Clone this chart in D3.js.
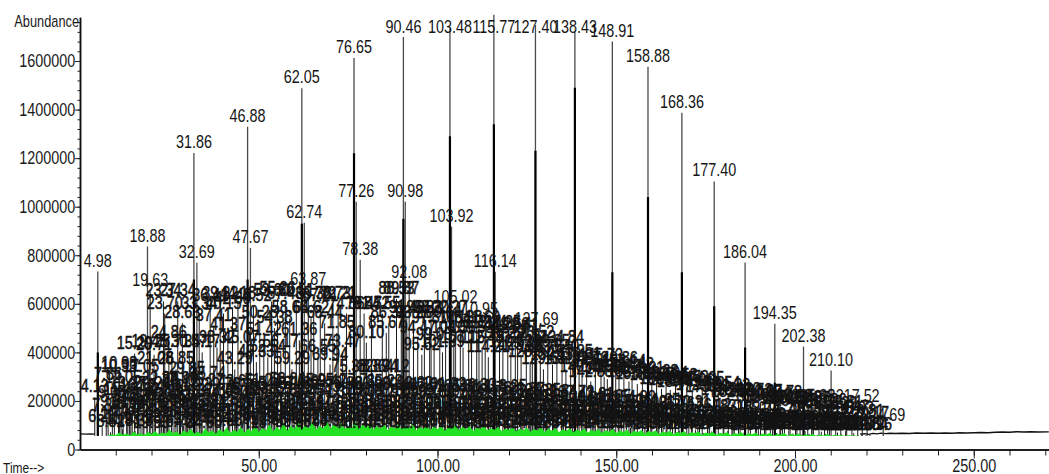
<!DOCTYPE html>
<html>
<head>
<meta charset="utf-8">
<script src="https://cdn.jsdelivr.net/npm/d3@7"></script>
<style>
  html, body { margin: 0; padding: 0; background: #fff; }
  svg text { font-family: "Liberation Sans", Arial, sans-serif; }
</style>
</head>
<body>
<svg id="chart" width="1049" height="474"></svg>
<script>
// Total ion chromatogram: retention time (min) vs abundance.

// Labelled principal peaks
const majorTimes   = [4.98, 18.88, 19.63, 31.86, 32.69, 46.88, 47.67, 62.05, 62.74, 63.87,
                      76.65, 77.26, 78.38, 90.46, 90.98, 92.08, 103.48, 103.92, 105.02, 110.95,
                      115.77, 116.14, 127.40, 127.69, 138.43, 148.91, 158.88, 168.36, 177.40, 186.04,
                      194.35, 202.38, 210.10, 217.52, 224.69];
const majorHeights = [733000, 836000, 651000, 1221000, 769000, 1329000, 830000, 1488000, 934000, 658000,
                      1612000, 1020000, 781000, 1699000, 1020000, 687000, 1735000, 918000, 584000, 535000,
                      1790000, 732000, 1748000, 494000, 1720000, 1680000, 1576000, 1387000, 1104000, 770000,
                      518000, 424000, 325000, 177000, 96000];
// height up to which the (broader) foot of each peak is drawn heavier
const majorCores   = [400000, 0, 0, 700000, 0, 700000, 0, 930000, 0, 0,
                      1220000, 0, 0, 950000, 0, 0, 1290000, 0, 0, 0,
                      1340000, 0, 1230000, 0, 1490000, 730000, 1040000, 730000, 590000, 420000,
                      275000, 240000, 0, 0, 0];

// Secondary peaks: [retention time, abundance in thousands]
const midPeaks = [
  [4.13,215],[7.86,265],[10.93,300],[10.98,310],[12.05,255],[13.37,230],[14.60,180],[15.29,395],
  [17.05,300],[19.45,400],[20.71,390],[21.08,330],[22.38,250],[23.34,610],[23.70,560],[24.86,440],
  [25.71,400],[26.85,330],[27.34,610],[27.90,250],[28.63,520],[29.85,290],
  [30.57,400],[33.34,560],[34.17,400],[35.74,270],[36.41,590],[37.41,510],[38.32,420],[39.22,600],
  [40.15,560],[41.37,470],[42.66,580],[43.29,330],[44.18,600],[45.07,420],
  [48.52,590],[49.33,360],[50.28,520],[51.42,450],[52.54,380],[53.60,610],[54.38,500],[55.26,620],
  [56.17,400],[57.43,600],[58.66,540],[59.29,330],[60.51,610],[61.36,450],
  [64.62,540],[65.38,600],[66.55,380],[67.21,590],[68.44,520],[69.94,350],[70.73,600],[71.85,480],
  [72.21,600],[73.47,400],[74.56,560],[75.38,300],[79.47,560],[80.10,440],
  [81.52,560],[82.64,300],[83.94,300],[84.55,560],[85.67,480],[86.38,520],[87.12,300],[88.53,620],
  [89.87,620],[91.40,540],[93.28,520],[94.47,460],[95.62,390],[96.33,540],[97.81,500],[98.20,540],[99.05,430],
  [100.64,520],[101.39,400],[102.27,540],[104.56,460],[106.38,500],[107.15,420],[108.72,480],[109.53,460],
  [111.60,500],[112.48,420],[113.34,480],[114.21,380],[117.35,480],[118.29,440],[119.66,470],[120.52,400],
  [121.77,460],[122.41,470],[123.38,390],[124.84,420],[125.91,360],[126.52,440],[128.76,380],[129.63,330],
  [130.85,400],[132.17,350],[133.40,380],[134.84,420],[135.92,330],[137.25,360],[139.61,350],[140.43,300],
  [141.72,330],[142.88,280],[144.15,320],[145.73,345],[146.62,300],[147.50,290],[149.86,330],[150.77,300],
  [152.14,320],[153.56,280],[154.42,305],[155.89,270],[157.31,290],[159.95,265],[161.28,280],[162.67,250],
  [163.94,270],[165.12,245],[166.58,260],[167.49,235],[169.73,255],
  [171.26,240],[172.83,225],[174.05,250],[175.60,215],[178.54,230],[179.91,205],[181.33,220],[182.66,195],
  [184.20,205],[187.52,200],[188.93,180],[190.37,195],[191.85,170],[193.12,185],[195.78,190],[197.05,165],
  [198.63,175],[200.15,160],[201.42,170],[203.57,165],[205.08,175],[206.71,150],[208.26,160],[211.39,145],
  [212.81,150],[214.47,130],[215.93,125],[218.81,115],[220.17,105]
];

// Peaks in the crowded band just above the baseline cluster: [retention time, abundance in thousands]
const bandPeaks = [
  [9.05,190],[11.48,205],[13.82,175],[16.12,220],[17.88,185],[20.24,230],[22.83,200],[24.12,215],[26.31,185],
  [28.12,235],[29.41,195],[31.02,220],[33.91,180],[35.27,240],[37.85,200],[39.76,225],[41.90,190],[43.65,235],
  [45.62,205],[47.03,220],[49.85,185],[51.08,240],[53.12,210],[54.87,230],[56.72,195],[58.04,245],[59.91,210],
  [61.82,230],[63.45,200],[65.95,240],[67.83,215],[69.42,235],[71.37,195],[73.90,230],[75.96,205],[77.71,240],
  [79.84,210],[81.90,230],[83.12,195],[85.23,235],[87.56,200],[89.44,225],[91.96,190],[93.62,230],[95.17,205],
  [97.09,220],[99.61,195],[101.92,225],[104.28,190],[105.81,215],[107.93,200],[110.33,220],[112.92,185],
  [114.76,210],[117.02,190],[118.95,215],[121.41,185],[123.87,205],[126.13,180],[128.35,200],[130.50,175],
  [132.84,195],[135.26,170],[137.72,190],[140.96,165],[143.31,185],[145.18,160],[148.05,175],[151.39,155],
  [154.90,170],[158.02,150],[161.65,160],[165.76,145],[170.31,150],[176.12,140],[183.01,135],[189.74,130],
  [196.48,120],[204.65,115],[209.12,110]
];

// Minor peaks close to the baseline: [retention time, abundance in thousands]
const smallPeaks = [
  [6.21,92],[7.34,138],[8.52,71],[9.61,156],[10.77,104],[11.93,83],[13.05,147],[14.22,118],[15.38,76],
  [16.47,161],[17.62,97],[18.71,132],[19.93,68],[21.08,152],[22.16,113],[23.31,87],[24.49,164],[25.57,125],
  [26.72,74],[27.86,143],[28.97,99],[30.13,158],[31.24,81],[32.41,129],[33.55,109],[34.68,66],[35.82,149],
  [36.94,118],[38.11,91],[39.25,162],[40.36,78],[41.52,136],[42.63,103],[43.79,155],[44.91,84],[46.07,127],
  [47.19,69],[48.33,146],[49.46,112],[50.61,95],[51.74,163],[52.88,79],[54.02,133],[55.14,106],[56.29,151],
  [57.41,88],[58.56,121],[59.68,72],[60.83,159],[61.95,101],[63.11,139],[64.23,85],[65.37,165],[66.52,116],
  [67.64,93],[68.79,148],[69.91,76],[71.06,130],[72.18,107],[73.33,157],[74.47,89],[75.58,124],[76.74,70],
  [77.89,144],[79.01,98],[80.15,160],[81.28,82],[82.43,135],[83.57,111],[84.69,153],[85.84,74],[86.96,128],
  [88.11,96],[89.23,150],[90.38,86],[91.52,119],[92.64,67],[93.79,141],[94.91,102],[96.06,158],[97.18,80],
  [98.33,126],[99.47,93],[100.59,146],[101.74,71],[102.86,122],[104.01,99],[105.13,152],[106.28,84],
  [107.42,117],[108.54,68],[109.69,139],[110.81,95],[111.96,149],[113.08,77],[114.23,123],[115.37,104],
  [116.49,143],[117.64,73],[118.76,131],[119.91,90],[121.03,147],[122.18,81],[123.32,114],[124.44,66],
  [125.59,137],[126.71,97],[127.86,142],[128.98,79],[130.13,120],[131.27,88],[132.39,140],[133.54,70],
  [134.66,112],[135.81,94],[136.93,135],[138.08,75],[139.22,118],[140.34,86],[141.49,132],[142.61,68],
  [143.76,109],[144.88,91],[146.03,129],[147.17,73],[148.29,115],[149.44,83],[150.56,126],[151.71,66],
  [152.83,104],[153.98,89],[155.12,122],[156.24,71],[157.39,110],[158.51,80],[159.66,119],[160.78,64],
  [161.93,101],[163.07,87],[164.19,116],[165.34,69],[166.46,97],[167.61,78],[168.73,112],[169.88,63],
  [171.02,94],[172.14,82],[173.29,108],[174.41,67],[175.56,90],[176.68,74],[177.83,104],[178.97,62],
  [180.09,88],[181.24,76],[182.36,101],[183.51,65],[184.63,86],[185.78,71],[186.92,98],[188.04,61],
  [189.19,83],[190.31,70],[191.46,95],[192.58,63],[193.73,80],[194.87,68],[195.99,92],[197.14,60],
  [198.26,78],[199.41,66],[200.53,89],[201.68,62],[202.82,76],[203.94,64],[205.09,85],[206.21,60],
  [207.36,73],[208.48,63],[209.63,81],[210.77,59],[211.89,70],[213.04,62],[214.16,76],[215.31,58],
  [216.43,67],[217.58,60],[218.71,64],[219.84,58],[220.96,61]
];

// Integrated signal (green), sampled every minute from 8 min, abundance in thousands
const greenStart = 8, greenStep = 1;
const greenLevels = [
  58,63,60,70,61,66,59,74,62,68,60,72,64,
  76,63,70,65,82,67,74,62,79,69,85,66,73,64,88,70,78,65,84,71,
  92,68,80,73,95,70,86,75,101,72,90,78,106,74,94,80,112,77,99,83,
  118,79,104,86,115,81,98,88,121,83,107,90,112,84,100,87,116,82,104,89,
  109,80,97,85,111,79,95,88,104,82,99,86,107,78,93,84,102,80,96,83,
  100,77,92,85,104,79,95,82,98,76,90,84,97,78,88,81,94,75,87,80,
  92,74,85,79,90,73,84,78,93,72,86,77,89,71,83,76,88,70,82,75,
  86,69,80,74,84,68,79,73,85,67,78,72,82,66,77,71,80,65,76,70,
  79,64,74,69,77,63,73,68,76,62,72,67,75,61,70,66,73,60,69,65,
  72,59,68,64,71,58,67,63,70,58,66,62,69,57,65,61,68,57,64,60,
  66,57,63,59,65,56,62,58,64,56,61,58,60,56,59,57,58,56
];

// Bare signal trace before the first peak and after the last eluting compound: [time, abundance in thousands]
const headTrace = [[0,64],[1.5,63],[3.0,64],[3.9,63],[4.1,66]];
const tailTrace = [[218.2,63],[219.5,65],[220.6,62],[221.8,66],[223.0,64],[224.0,67],[225.4,65],[226.5,67],
  [228,66],[230,67],[232,66],[234,68],[236,67],[238,68],[240,67],[242,68],[244,67],[246,69],[248,68],
  [250,69],[252,70],[254,69],[256,71],[258,72],[260,71],[262,73],[264,72],[266,73],[268,72],[271,73]];

const baseLevel = 56000;
const yMajorTicks = [0, 200000, 400000, 600000, 800000, 1000000, 1200000, 1400000, 1600000];
const yMinorTicks = d3.range(0, 1780001, 40000);
const xMajorTicks = [50, 100, 150, 200, 250];
const xMinorTicks = d3.range(10, 271, 10);

const NARROW = 0.8;   // horizontal compression of the label face

const svg = d3.select("#chart");
svg.append("rect").attr("width", 1049).attr("height", 474).attr("fill", "#fff");

const x = d3.scaleLinear().domain([0, 271]).range([80, 80 + 271 * 3.575]);
const y = d3.scaleLinear().domain([0, 1780000]).range([449.5, 17.3]);
const fmt = d3.format(".2f");
const labelY = v => Math.max(y(v) - 5, 33);
const place = (px, py) => `translate(${px},${py}) scale(${NARROW},1)`;

// baseline signal trace
const line = d3.line().x(d => x(d[0])).y(d => y(d[1] * 1000));
[headTrace, tailTrace].forEach(tr => {
  svg.append("path").datum(tr).attr("fill", "none").attr("stroke", "#111")
    .attr("stroke-width", 1.3).attr("d", line);
});

const gLines = svg.append("g");
const gGreen = svg.append("g");
const gLabels = svg.append("g").attr("font-size", 18).attr("fill", "#151515").attr("text-anchor", "middle");

// small and secondary peaks
const clutter = smallPeaks.concat(bandPeaks, midPeaks);
gLines.selectAll("line.minor").data(clutter).join("line")
  .attr("class", "minor")
  .attr("x1", d => x(d[0])).attr("x2", d => x(d[0]))
  .attr("y1", y(baseLevel)).attr("y2", d => y(d[1] * 1000))
  .attr("stroke", "#1a1a1a").attr("stroke-width", 1);

// green integrated area, over the peak stems
const greenData = greenLevels.map((v, i) => [greenStart + i * greenStep, v * 1000]);
gGreen.append("path")
  .datum(greenData)
  .attr("fill", "#22e022")
  .attr("d", d3.area().x(d => x(d[0])).y0(y(baseLevel)).y1(d => y(d[1])));

gLabels.selectAll("text.minor").data(clutter).join("text")
  .attr("class", "minor")
  .attr("transform", d => place(x(d[0]), labelY(d[1] * 1000)))
  .attr("stroke", "#111").attr("stroke-width", 0.5)
  .text(d => fmt(d[0]));

// principal peaks
const majors = majorTimes.map((t, i) => ({ t, h: majorHeights[i], c: majorCores[i] }));
gLines.selectAll("line.major").data(majors).join("line")
  .attr("class", "major")
  .attr("x1", d => x(d.t)).attr("x2", d => x(d.t))
  .attr("y1", y(baseLevel)).attr("y2", d => y(d.h))
  .attr("stroke", "#4a4a4a").attr("stroke-width", 1.3);
gLines.selectAll("line.core").data(majors.filter(d => d.c > 0)).join("line")
  .attr("class", "core")
  .attr("x1", d => x(d.t)).attr("x2", d => x(d.t))
  .attr("y1", y(baseLevel)).attr("y2", d => y(d.c))
  .attr("stroke", "#000").attr("stroke-width", 2.2);

gLabels.selectAll("text.major").data(majors).join("text")
  .attr("class", "major")
  .attr("transform", d => place(x(d.t), labelY(d.h)))
  .text(d => fmt(d.t));

// axes
const yAxis = svg.append("g").attr("transform", "translate(80,0)");
yAxis.call(d3.axisLeft(y).tickValues(yMinorTicks).tickSize(2.5).tickSizeOuter(0).tickFormat(""));
yAxis.append("g").call(d3.axisLeft(y).tickValues(yMajorTicks).tickSize(5).tickSizeOuter(0).tickPadding(1).tickFormat(d3.format("d")));

const xAxis = svg.append("g").attr("transform", `translate(0,${y(0)})`);
xAxis.call(d3.axisBottom(x).tickValues(xMinorTicks).tickSize(6).tickSizeOuter(0).tickFormat(""));
xAxis.append("g").call(d3.axisBottom(x).tickValues(xMajorTicks).tickSize(9).tickSizeOuter(0).tickPadding(1).tickFormat(fmt));

svg.selectAll(".domain").attr("stroke", "#111").attr("stroke-width", 1.5);
svg.selectAll(".tick line").attr("stroke", "#222");
svg.selectAll(".tick text").attr("font-size", 18).attr("fill", "#1a1a1a")
  .attr("font-family", "'Liberation Sans',Arial,sans-serif")
  .attr("transform", `scale(${NARROW},1)`);

svg.append("text").attr("transform", place(79, 27)).attr("text-anchor", "end")
  .attr("font-size", 16).attr("fill", "#1a1a1a").text("Abundance");
svg.append("text").attr("transform", place(3, 473)).attr("font-size", 15).attr("fill", "#1a1a1a").text("Time-->");
</script>
</body>
</html>
